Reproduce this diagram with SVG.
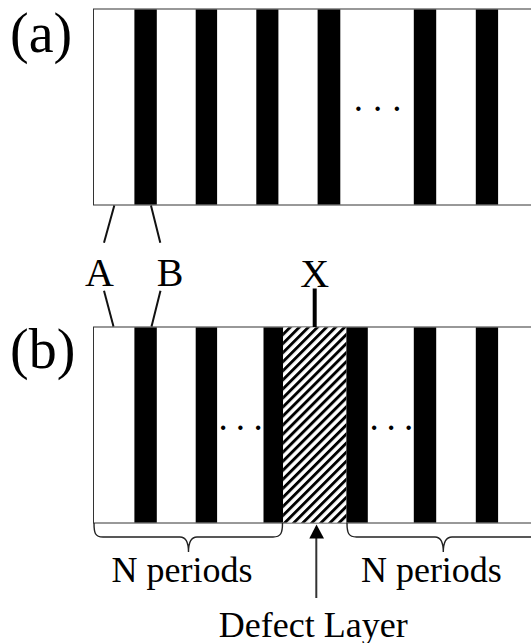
<svg xmlns="http://www.w3.org/2000/svg" width="531" height="643" viewBox="0 0 531 643">
<style>
.frame{fill:#fff;stroke:#333;stroke-width:1}
.bar{fill:#000}
.lbl{font-family:"Liberation Serif","Times New Roman",serif;fill:#000}
.big{font-size:56px}
.mid{font-size:40px}
.small{font-size:36px}
.dots{font-size:37px;text-anchor:middle}
.conn{stroke:#111;stroke-width:2;fill:none}
.brace{stroke:#222;stroke-width:1.4;fill:none}
</style>
<defs>
<pattern id="hatch" patternUnits="userSpaceOnUse" width="6.4" height="10" patternTransform="rotate(45)">
<rect x="0" y="0" width="6.4" height="10" fill="#fff"/>
<rect x="0" y="0" width="2.9" height="10" fill="#000"/>
</pattern>
</defs>
<rect width="531" height="643" fill="#fff"/>

<g id="panel-a">
<rect class="frame" x="93.5" y="9" width="450" height="196"/>
<rect class="bar" x="134.4" y="9.5" width="22.4" height="195"/>
<rect class="bar" x="195.7" y="9.5" width="21.4" height="195"/>
<rect class="bar" x="256.3" y="9.5" width="22.1" height="195"/>
<rect class="bar" x="317.6" y="9.5" width="22.7" height="195"/>
<rect class="bar" x="413.8" y="9.5" width="22.4" height="195"/>
<rect class="bar" x="475.8" y="9.5" width="22.3" height="195"/>
<text class="lbl dots" x="358.3 377.6 396.9" y="110.5">...</text>
<text class="lbl big" x="10" y="51.5">(a)</text>
</g>

<g id="panel-b">
<rect class="frame" x="93.5" y="327" width="450" height="196"/>
<rect class="bar" x="134.4" y="327.5" width="22.4" height="195"/>
<rect class="bar" x="195.7" y="327.5" width="21.4" height="195"/>
<rect class="bar" x="263.5" y="327.5" width="19.6" height="195"/>
<rect id="defect" x="283.1" y="327.5" width="63.3" height="195" fill="url(#hatch)"/>
<rect class="bar" x="346.4" y="327.5" width="21.4" height="195"/>
<rect class="bar" x="413.8" y="327.5" width="22.4" height="195"/>
<rect class="bar" x="475.8" y="327.5" width="22.3" height="195"/>
<text class="lbl dots" x="223.2 240.4 258" y="430">...</text>
<text class="lbl dots" x="374.2 391.1 408.7" y="430">...</text>
<text class="lbl big" x="10" y="368">(b)</text>
</g>

<g id="label-A">
<text class="lbl mid" x="99.5" y="286" text-anchor="middle">A</text>
</g>
<g id="label-B">
<text class="lbl mid" x="170" y="286" text-anchor="middle">B</text>
</g>
<g id="label-X">
<text class="lbl mid" x="314.7" y="287" text-anchor="middle">X</text>
</g>
<g id="label-left-periods">
<text class="lbl small" x="182" y="581.5" text-anchor="middle">N periods</text>
</g>
<g id="label-right-periods">
<text class="lbl small" x="431.4" y="581.5" text-anchor="middle">N periods</text>
</g>
<g id="label-defect">
<text class="lbl small" x="313.2" y="636.5" text-anchor="middle">Defect Layer</text>
</g>

<g id="connectors">
<line class="conn" x1="114.3" y1="205.5" x2="104" y2="242.7"/>
<line class="conn" x1="151" y1="205.5" x2="160.3" y2="242.7"/>
<line class="conn" x1="104" y1="290.7" x2="113.5" y2="326.5"/>
<line class="conn" x1="160.5" y1="290.7" x2="151.5" y2="326.5"/>
<line x1="314.7" y1="288.5" x2="314.7" y2="327" stroke="#000" stroke-width="4"/>
<path class="brace" d="M94,523 C94,533 95,537 103,537 L180,537 C186,537 188.5,542 188.5,552 C188.5,542 191,537 197,537 L273,537 C281,537 282.5,533 282.5,523"/>
<path class="brace" d="M347,523 C347,533 348.5,537 356.5,537 L435,537 C441,537 443.3,542 443.3,552 C443.3,542 446,537 452,537 L531,537"/>
<line x1="316.3" y1="598" x2="316.3" y2="536" stroke="#333" stroke-width="2"/>
<path d="M316.5,524.5 L324,538.5 L309.3,538.5 Z" fill="#000"/>
</g>
</svg>
